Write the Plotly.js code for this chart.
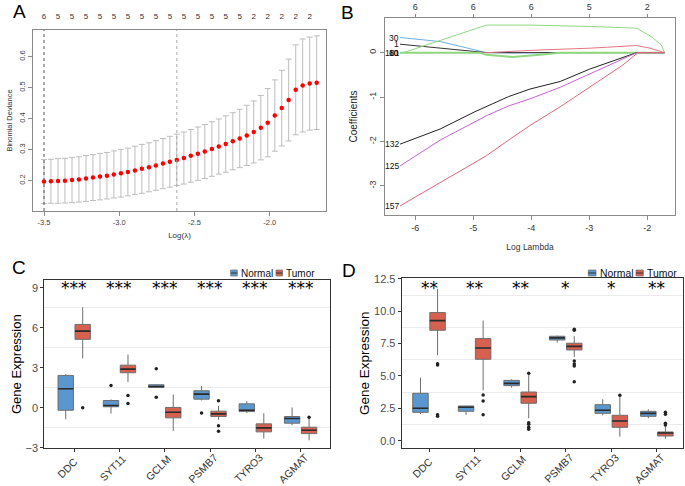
<!DOCTYPE html>
<html><head><meta charset="utf-8">
<script src="https://cdn.plot.ly/plotly-3.0.1.min.js"></script>
<style>html,body{margin:0;padding:0;background:#fff}#chart{width:685px;height:486px}</style>
</head><body><div id="chart"></div>
<script>
// ---------- Panel A: cross-validation curve ----------
const logLambdaA = [-3.500,-3.454,-3.407,-3.361,-3.314,-3.268,-3.221,-3.175,-3.128,-3.082,
  -3.036,-2.989,-2.943,-2.896,-2.850,-2.803,-2.757,-2.710,-2.664,-2.618,
  -2.571,-2.525,-2.478,-2.432,-2.385,-2.339,-2.293,-2.246,-2.200,-2.153,
  -2.107,-2.060,-2.014,-1.967,-1.921,-1.875,-1.828,-1.782,-1.735,-1.689];
const binomDev = [0.197,0.198,0.199,0.200,0.202,0.204,0.207,0.210,0.213,0.216,
  0.220,0.224,0.228,0.233,0.238,0.243,0.249,0.255,0.261,0.267,
  0.273,0.280,0.287,0.294,0.302,0.310,0.318,0.327,0.336,0.346,
  0.357,0.371,0.387,0.410,0.434,0.460,0.493,0.507,0.513,0.516];
const binomDevSE = [0.071,0.071,0.072,0.072,0.073,0.073,0.074,0.074,0.075,0.075,
  0.076,0.077,0.077,0.078,0.079,0.079,0.080,0.081,0.082,0.083,
  0.084,0.085,0.086,0.087,0.088,0.089,0.091,0.092,0.094,0.097,
  0.100,0.104,0.110,0.115,0.122,0.132,0.145,0.150,0.150,0.151];
const nonzeroA = [6,5,5,5,5,5,5,5,5,5,5,5,5,5,5,2,2,2,2,2]; // shown at every other lambda
const lambdaMinIdx = 0, lambda1seIdx = 19;
const aXTicks = [-3.5,-3.0,-2.5,-2.0];
const aYTicks = [0.2,0.3,0.4,0.5,0.6];

// ---------- Panel B: coefficient paths ----------
const bXTicks = [-6,-5,-4,-3,-2];
const bTopLabels = ['6','6','6','5','2'];
const bYTicks = [-3,-2,-1,0];
const v30x = [-6.26,-5.57,-4.77,-4.30,-3.50,-1.70], v30y = [0.34,0.25,0.00,-0.01,0.00,0.00];
const v1x = [-6.26,-4.77,-1.70], v1y = [0.19,0.00,0.00];
const v181x = [-6.26,-6.20,-4.77,-4.02,-2.99,-2.18,-1.93,-1.76,-1.70], v181y = [0,0,0.62,0.62,0.59,0.55,0.36,0.18,0];
const v10x = [-6.26,-4.77,-3.85,-2.99,-2.18,-1.95,-1.70], v10y = [0,0,0.06,0.10,0.16,0.10,0];
const v60x = [-6.26,-4.90,-4.77,-4.32,-3.85,-3.50,-1.70], v60y = [0,0,-0.05,-0.10,-0.05,0,0];
const v132x = [-6.26,-5.57,-4.97,-4.39,-4.02,-3.50,-2.99,-2.18,-1.70], v132y = [-2.06,-1.72,-1.33,-0.99,-0.82,-0.65,-0.37,0,0];
const v125x = [-6.26,-5.57,-4.77,-4.39,-4.02,-3.50,-2.99,-2.18,-1.70], v125y = [-2.55,-1.97,-1.42,-1.20,-1.04,-0.78,-0.48,0,0];
const v157x = [-6.26,-4.77,-4.39,-4.02,-3.50,-2.99,-2.42,-2.16,-1.70], v157y = [-3.45,-2.32,-1.97,-1.64,-1.22,-0.78,-0.28,0,0];

// ---------- Panels C & D: boxplots ----------
const genes = ['DDC','SYT11','GCLM','PSMB7','TYRO3','AGMAT'];
const groups = ['Normal','Tumor'];
const cNormQ1 = [-0.18,0.08,1.53,0.65,-0.28,-1.15];
const cNormMed = [1.43,0.18,1.60,1.03,-0.18,-0.80];
const cNormQ3 = [2.43,0.55,1.73,1.28,0.30,-0.65];
const cNormLo = [-0.85,-0.43,1.50,0.55,-0.38,-1.30];
const cNormHi = [2.53,0.63,1.75,1.63,0.50,0.03];
const cNormOut = [[],[1.68],[2.93,0.80],[-0.38],[],[]];
const cTumQ1 = [5.13,2.63,-0.75,-0.65,-1.80,-1.93];
const cTumMed = [5.75,2.90,-0.33,-0.45,-1.50,-1.68];
const cTumQ3 = [6.25,3.20,0.03,-0.25,-1.20,-1.45];
const cTumLo = [3.70,1.93,-1.73,-0.90,-2.30,-2.43];
const cTumHi = [7.53,4.00,1.00,0.15,-0.40,-0.75];
const cTumOut = [[0.00],[0.93,0.33],[],[0.53,-1.35,-1.75],[],[-0.70]];
const cStars = ['***','***','***','***','***','***'];
const cStarY = 9.0;

const dNormQ1 = [2.19,2.27,4.25,7.78,2.11,1.88];
const dNormMed = [2.50,2.58,4.43,7.94,2.35,2.11];
const dNormQ3 = [3.66,2.68,4.66,8.07,2.78,2.27];
const dNormLo = [2.06,2.00,4.10,7.58,1.96,1.73];
const dNormHi = [4.87,2.68,4.74,8.12,3.20,2.42];
const dNormOut = [[],[],[],[],[],[]];
const dTumQ1 = [8.53,6.29,2.89,7.01,1.03,0.36];
const dTumMed = [9.28,7.16,3.40,7.29,1.52,0.59];
const dTumQ3 = [9.90,7.89,3.76,7.53,1.96,0.67];
const dTumLo = [6.60,3.89,1.73,6.47,0.31,0.15];
const dTumHi = [11.73,9.28,5.10,8.07,3.45,1.16];
const dTumOut = [[5.95,5.85,2.00,1.88],[3.53,3.07,2.00],[5.20,1.39,1.26,1.03,0.88],[8.61,8.53,6.16,5.93,5.77,4.56],[3.50],[2.19,2.04,1.34,1.21]];
const dStars = ['**','**','**','*','*','**'];
const dStarY = 11.8;

// ---------- styles ----------
const FONT = 'Liberation Sans, Arial, sans-serif';
const colNormal = '#5B97CF', colTumor = '#D8604F';
const boxW = 0.34, dodge = 0.1875;
const W = 685, H = 486;
const px = v => v / W, py = v => 1 - v / H;

const traces = [];

// A
traces.push({type:'scatter', mode:'markers', x:logLambdaA, y:binomDev, xaxis:'x', yaxis:'y',
  marker:{color:'#ff0000', size:4.5}, showlegend:false, hoverinfo:'skip',
  error_y:{type:'data', array:binomDevSE, visible:true, color:'#bdbdbd', thickness:1, width:3}});
traces.push({type:'scatter', mode:'markers', x:[logLambdaA[0]], y:[binomDev[0]], xaxis:'x5', yaxis:'y',
  marker:{opacity:0}, showlegend:false, hoverinfo:'skip'});

// B
const paths = [
  {x:v30x, y:v30y, c:'#6FAEE6', lab:'30'},
  {x:v1x, y:v1y, c:'#333333', lab:'1'},
  {x:v10x, y:v10y, c:'#E57487', lab:'10'},
  {x:v60x, y:v60y, c:'#8FD880', lab:'60'},
  {x:v181x, y:v181y, c:'#8FD880', lab:'181'},
  {x:v132x, y:v132y, c:'#222222', lab:'132'},
  {x:v125x, y:v125y, c:'#C860D8', lab:'125'},
  {x:v157x, y:v157y, c:'#E2657A', lab:'157'}
];
paths.forEach(p => traces.push({type:'scatter', mode:'lines', x:p.x, y:p.y, xaxis:'x2', yaxis:'y2',
  line:{color:p.c, width:p.lab==='60'?2:1}, showlegend:false, hoverinfo:'skip'}));
traces.push({type:'scatter', mode:'markers', x:[bXTicks[0]], y:[0], xaxis:'x6', yaxis:'y2',
  marker:{opacity:0}, showlegend:false, hoverinfo:'skip'});

// C & D boxes
function addBoxes(xa, ya, q1, med, q3, lo, hi, outs, shift, color, name) {
  const pos = genes.map((g,i)=>i+shift);
  traces.push({type:'box', xaxis:xa, yaxis:ya, x:pos, q1:q1, median:med, q3:q3,
    lowerfence:lo, upperfence:hi, width:boxW, fillcolor:color,
    line:{color:'#6e6e6e', width:1}, whiskerwidth:0, boxpoints:false,
    name:name, showlegend:false, hoverinfo:'skip'});
  const mx=[], my=[];
  pos.forEach((p,i)=>{mx.push(p-boxW/2,p+boxW/2,null); my.push(med[i],med[i],null);});
  traces.push({type:'scatter', mode:'lines', x:mx, y:my, xaxis:xa, yaxis:ya,
    line:{color:'#2b2b2b', width:1.6}, showlegend:false, hoverinfo:'skip'});
  const ox=[], oy=[];
  outs.forEach((arr,i)=>arr.forEach(v=>{ox.push(pos[i]); oy.push(v);}));
  traces.push({type:'scatter', mode:'markers', x:ox, y:oy, xaxis:xa, yaxis:ya,
    marker:{color:'#222', size:3.5}, showlegend:false, hoverinfo:'skip'});
}
addBoxes('x3','y3',cNormQ1,cNormMed,cNormQ3,cNormLo,cNormHi,cNormOut,-dodge,colNormal,groups[0]);
addBoxes('x3','y3',cTumQ1,cTumMed,cTumQ3,cTumLo,cTumHi,cTumOut,dodge,colTumor,groups[1]);
addBoxes('x4','y4',dNormQ1,dNormMed,dNormQ3,dNormLo,dNormHi,dNormOut,-dodge,colNormal,groups[0]);
addBoxes('x4','y4',dTumQ1,dTumMed,dTumQ3,dTumLo,dTumHi,dTumOut,dodge,colTumor,groups[1]);

// annotations
const ann = [];
const letter = (t,x,y)=>({text:t, xref:'paper', yref:'paper', x:px(x), y:py(y), showarrow:false,
  xanchor:'center', yanchor:'middle', font:{family:FONT, size:19, color:'#000'}});
ann.push(letter('A',19.5,11.5), letter('B',347,12), letter('C',19,267), letter('D',349,270));
paths.forEach(p => ann.push({text:p.lab, xref:'x2', yref:'y2', x:p.x[0], y:p.y[0], xanchor:'right',
  yanchor:'middle', showarrow:false, font:{family:FONT, size:8.5, color:'#111'}, xshift:1}));
genes.forEach((g,i)=>{
  ann.push({text:cStars[i], xref:'x3', yref:'y3', x:i, y:cStarY, showarrow:false, yanchor:'middle',
    font:{family:'DejaVu Sans', size:17, color:'#000'}});
  ann.push({text:dStars[i], xref:'x4', yref:'y4', x:i, y:dStarY, showarrow:false, yanchor:'middle',
    font:{family:'DejaVu Sans', size:17, color:'#000'}});
  // rotated category labels (ggplot-style, centred below each tick)
  ['x3','x4'].forEach(xa => ann.push({text:g, xref:xa, yref:'paper', x:i, y:py(468), xshift:-7,
    textangle:-45, xanchor:'center', yanchor:'middle', showarrow:false,
    font:{family:FONT, size:10.5, color:'#333'}}));
});

const shapes = [
  {type:'line', xref:'x', yref:'y domain', x0:logLambdaA[lambdaMinIdx], x1:logLambdaA[lambdaMinIdx], y0:0, y1:1,
   line:{color:'#555', width:1, dash:'dot'}},
  {type:'line', xref:'x', yref:'y domain', x0:logLambdaA[lambda1seIdx], x1:logLambdaA[lambda1seIdx], y0:0, y1:1,
   line:{color:'#aaa', width:1, dash:'dot'}}
];

// legend keys (drawn manually for ggplot-style compact legend)
function legendKey(x0, x1, ymid, color, label, fsize) {
  shapes.push({type:'rect', xref:'paper', yref:'paper', x0:px(x0), x1:px(x1), y0:py(ymid+3), y1:py(ymid-3),
    fillcolor:color, line:{color:'#7a7a7a', width:0.8}});
  shapes.push({type:'line', xref:'paper', yref:'paper', x0:px(x0), x1:px(x1), y0:py(ymid), y1:py(ymid),
    line:{color:'#333', width:1}});
  ann.push({text:label, xref:'paper', yref:'paper', x:px(x1+1.5), y:py(ymid), xanchor:'left', yanchor:'middle',
    showarrow:false, font:{family:FONT, size:fsize, color:'#111'}});
}
legendKey(230.7, 237.3, 273, colNormal, groups[0], 10);
legendKey(276, 282.5, 273, colTumor, groups[1], 10);
legendKey(588.3, 596, 273, colNormal, groups[0], 10.4);
legendKey(636, 643.3, 273, colTumor, groups[1], 10.4);

const rAxis = (o)=>Object.assign({showgrid:false, zeroline:false, showline:true, mirror:true, linecolor:'#8a8a8a',
  linewidth:1, ticks:'outside', ticklen:4, tickcolor:'#8a8a8a', tickfont:{family:FONT, size:7.5, color:'#444'}}, o);
const gAxis = (o)=>Object.assign({showgrid:false, zeroline:false, showline:true, mirror:true, linecolor:'#333',
  linewidth:1, ticks:'outside', ticklen:3, tickcolor:'#333', tickfont:{family:FONT, size:11, color:'#4d4d4d'}}, o);

const layout = {
  width:W, height:H, margin:{l:0,r:0,t:0,b:0}, paper_bgcolor:'#fff', plot_bgcolor:'#fff',
  font:{family:FONT}, showlegend:false,
  // A
  xaxis: rAxis({domain:[0.0482,0.4759], range:[-3.573,-1.627], anchor:'y', tickvals:aXTicks,
    ticktext:aXTicks.map(v=>v.toFixed(1)), title:{text:'Log(λ)', font:{family:FONT,size:8,color:'#333'}, standoff:6}}),
  yaxis: rAxis({domain:[0.5658,0.9383], range:[0.102,0.686], anchor:'x', tickvals:aYTicks,
    ticktext:aYTicks.map(v=>v.toFixed(1)), tickangle:-90,
    title:{text:'Binomial Deviance', font:{family:FONT,size:7.5,color:'#333'}, standoff:4}}),
  xaxis5: {overlaying:'x', side:'top', anchor:'y', range:[-3.573,-1.627], showgrid:false, zeroline:false,
    showline:false, tickvals:logLambdaA.filter((v,i)=>i%2===0), ticktext:nonzeroA.map(String),
    ticks:'outside', ticklen:7, tickcolor:'rgba(0,0,0,0)', tickfont:{family:FONT,size:8,color:'#333'}},
  // B
  xaxis2: rAxis({domain:[0.562,0.9854], range:[-6.52,-1.52], anchor:'y2', tickvals:bXTicks,
    ticktext:bXTicks.map(String), tickfont:{family:FONT,size:9,color:'#333'},
    title:{text:'Log Lambda', font:{family:FONT,size:8.5,color:'#333'}, standoff:12}}),
  yaxis2: rAxis({domain:[0.5576,0.963], range:[-3.655,0.78], anchor:'x2', tickvals:bYTicks,
    ticktext:bYTicks.map(String), tickangle:-90, tickfont:{family:FONT,size:9,color:'#333'},
    title:{text:'Coefficients', font:{family:FONT,size:10,color:'#222'}, standoff:8}}),
  xaxis6: {overlaying:'x2', side:'top', anchor:'y2', range:[-6.52,-1.52], showgrid:false, zeroline:false,
    showline:false, tickvals:bXTicks, ticktext:bTopLabels, ticks:'outside', ticklen:3, tickcolor:'#8a8a8a',
    tickfont:{family:FONT,size:9,color:'#333'}},
  // C
  xaxis3: gAxis({domain:[0.0647,0.4818], range:[-0.66,5.65], anchor:'y3', tickvals:genes.map((g,i)=>i),
    showticklabels:false}),
  yaxis3: gAxis({domain:[0.0776,0.4239], range:[-3.03,9.58], anchor:'x3', tick0:0, dtick:3,
    minor:{tick0:0, dtick:1.5, showgrid:true, gridcolor:'#ebebeb', gridwidth:1, ticks:''},
    title:{text:'Gene Expression', font:{family:FONT,size:13,color:'#000'}, standoff:1}}),
  // D
  xaxis4: gAxis({domain:[0.5864,0.9975], range:[-0.6,5.58], anchor:'y4', tickvals:genes.map((g,i)=>i),
    showticklabels:false}),
  yaxis4: gAxis({domain:[0.0776,0.4274], range:[-0.59,12.55], anchor:'x4', tick0:0, dtick:2.5, tickformat:'.1f',
    minor:{tick0:0, dtick:1.25, showgrid:true, gridcolor:'#ebebeb', gridwidth:1, ticks:''},
    title:{text:'Gene Expression', font:{family:FONT,size:13.5,color:'#000'}, standoff:1}}),
  annotations: ann, shapes: shapes, boxmode:'overlay'
};

Plotly.newPlot('chart', traces, layout, {displayModeBar:false, staticPlot:true});
</script></body></html>
